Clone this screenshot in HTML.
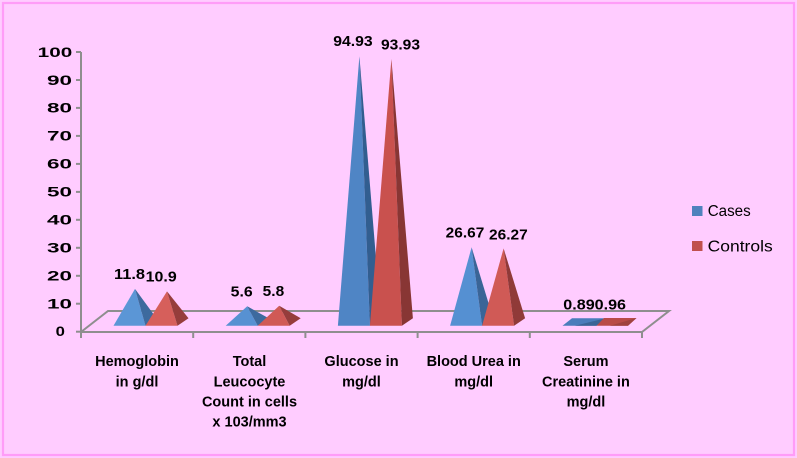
<!DOCTYPE html>
<html><head><meta charset="utf-8"><style>
html,body{margin:0;padding:0;background:#FFCCFF;}
svg{display:block;}
text{font-family:"Liberation Sans",Arial,sans-serif;fill:#000;}
.b{font-weight:bold;}
</style></head><body>
<svg width="797" height="458" viewBox="0 0 797 458" xmlns="http://www.w3.org/2000/svg">
<rect x="0" y="0" width="797" height="458" fill="#FFCCFF"/>
<rect x="3" y="3" width="791" height="452" fill="#FFCCFF" stroke="#FF9CF8" stroke-width="2.2"/>

<!-- floor -->
<g stroke="#8E8E8E" stroke-width="2" fill="none">
<polyline points="81,332 108,311 669,311 642,332"/>
<line x1="81" y1="332" x2="642" y2="332"/>
<line x1="81" y1="52" x2="81" y2="333"/>
<line x1="81" y1="332" x2="81" y2="338"/>
<line x1="193.2" y1="332" x2="193.2" y2="338"/>
<line x1="305.4" y1="332" x2="305.4" y2="338"/>
<line x1="417.6" y1="332" x2="417.6" y2="338"/>
<line x1="529.8" y1="332" x2="529.8" y2="338"/>
<line x1="642" y1="332" x2="642" y2="338"/>
<line x1="76" y1="331.7" x2="81" y2="331.7"/>
<line x1="76" y1="303.7" x2="81" y2="303.7"/>
<line x1="76" y1="275.8" x2="81" y2="275.8"/>
<line x1="76" y1="247.8" x2="81" y2="247.8"/>
<line x1="76" y1="219.8" x2="81" y2="219.8"/>
<line x1="76" y1="191.9" x2="81" y2="191.9"/>
<line x1="76" y1="163.9" x2="81" y2="163.9"/>
<line x1="76" y1="135.9" x2="81" y2="135.9"/>
<line x1="76" y1="107.9" x2="81" y2="107.9"/>
<line x1="76" y1="80" x2="81" y2="80"/>
<line x1="76" y1="52" x2="81" y2="52"/>
</g>

<!-- y labels -->
<g class="b" font-size="13.5">
<text x="55.7" y="336" textLength="9.3" lengthAdjust="spacingAndGlyphs">0</text>
<text x="47" y="308.5" textLength="25" lengthAdjust="spacingAndGlyphs">10</text>
<text x="47" y="280.6" textLength="25" lengthAdjust="spacingAndGlyphs">20</text>
<text x="47" y="252.6" textLength="25" lengthAdjust="spacingAndGlyphs">30</text>
<text x="47" y="224.6" textLength="25" lengthAdjust="spacingAndGlyphs">40</text>
<text x="47" y="196.7" textLength="25" lengthAdjust="spacingAndGlyphs">50</text>
<text x="47" y="168.7" textLength="25" lengthAdjust="spacingAndGlyphs">60</text>
<text x="47" y="140.7" textLength="25" lengthAdjust="spacingAndGlyphs">70</text>
<text x="47" y="112.7" textLength="25" lengthAdjust="spacingAndGlyphs">80</text>
<text x="47" y="84.8" textLength="25" lengthAdjust="spacingAndGlyphs">90</text>
<text x="37.7" y="57" textLength="34.6" lengthAdjust="spacingAndGlyphs">100</text>
</g>

<!-- pyramids -->
<polygon points="113.5,325.7 145.5,325.7 135,288.9" fill="#5B96D6"/>
<polygon points="145.5,325.7 156.5,318.2 135,288.9" fill="#3D6A9E"/>
<polygon points="145.5,325.7 177.5,325.7 167,291.4" fill="#D65F5B"/>
<polygon points="177.5,325.7 188.5,318.2 167,291.4" fill="#963D3B"/>
<polygon points="225.7,325.7 257.7,325.7 247.2,306.3" fill="#5791D2"/>
<polygon points="257.7,325.7 268.7,318.2 247.2,306.3" fill="#3D6A9E"/>
<polygon points="257.7,325.7 289.7,325.7 279.2,305.7" fill="#D05A56"/>
<polygon points="289.7,325.7 300.7,318.2 279.2,305.7" fill="#963D3B"/>
<polygon points="337.9,325.7 369.9,325.7 359.4,56.2" fill="#4F85C5"/>
<polygon points="369.9,325.7 380.9,318.2 359.4,56.2" fill="#325E90"/>
<polygon points="369.9,325.7 401.9,325.7 391.4,59" fill="#C9514E"/>
<polygon points="401.9,325.7 412.9,318.2 391.4,59" fill="#883634"/>
<polygon points="450.1,325.7 482.1,325.7 471.6,247.3" fill="#5590D2"/>
<polygon points="482.1,325.7 493.1,318.2 471.6,247.3" fill="#3A6597"/>
<polygon points="482.1,325.7 514.1,325.7 503.6,248.4" fill="#D05A56"/>
<polygon points="514.1,325.7 525.1,318.2 503.6,248.4" fill="#903A38"/>
<polygon points="562.5,325.7 596.5,325.7 605.5,318.3 572,318.3" fill="#4A7DBB"/>
<polygon points="575,325.7 596.5,325.7 605.5,318.3" fill="#3A6597"/>
<polygon points="596.5,325.7 628,325.7 636.5,318 604,318" fill="#B94B48"/>
<polygon points="610,325.7 628,325.7 636.5,318" fill="#A04240"/>

<!-- data labels -->
<g class="b" font-size="15">
<text x="114" y="279" textLength="31" lengthAdjust="spacingAndGlyphs">11.8</text>
<text x="145.7" y="281.7" textLength="31" lengthAdjust="spacingAndGlyphs">10.9</text>
<text x="230.7" y="296.7" textLength="22" lengthAdjust="spacingAndGlyphs">5.6</text>
<text x="262.7" y="296.2" textLength="21.5" lengthAdjust="spacingAndGlyphs">5.8</text>
<text x="333.3" y="46" textLength="39.4" lengthAdjust="spacingAndGlyphs">94.93</text>
<text x="381" y="49.3" textLength="39" lengthAdjust="spacingAndGlyphs">93.93</text>
<text x="445.7" y="237.4" textLength="38.6" lengthAdjust="spacingAndGlyphs">26.67</text>
<text x="489" y="239.3" textLength="38.7" lengthAdjust="spacingAndGlyphs">26.27</text>
<text x="563.3" y="309.3" textLength="62.7" lengthAdjust="spacingAndGlyphs">0.890.96</text>
</g>

<!-- category labels -->
<g class="b" font-size="14.5" text-anchor="middle">
<text x="137" y="366">Hemoglobin</text>
<text x="137" y="386.5">in g/dl</text>
<text x="249.5" y="366">Total</text>
<text x="249.5" y="386.5">Leucocyte</text>
<text x="249.5" y="406.5">Count in cells</text>
<text x="249.5" y="426.5">x 103/mm3</text>
<text x="361.5" y="366">Glucose in</text>
<text x="361.5" y="386.5">mg/dl</text>
<text x="473.7" y="366">Blood Urea in</text>
<text x="473.7" y="386.5">mg/dl</text>
<text x="585.9" y="366">Serum</text>
<text x="585.9" y="386.5">Creatinine in</text>
<text x="585.9" y="406.5">mg/dl</text>
</g>

<!-- legend -->
<rect x="692" y="206" width="10.5" height="10" fill="#4F81BD"/>
<rect x="692" y="241" width="10.5" height="10" fill="#C0504D"/>
<text x="707.7" y="216" font-size="15.5" textLength="43" lengthAdjust="spacingAndGlyphs">Cases</text>
<text x="707.7" y="251.5" font-size="15.5" textLength="65" lengthAdjust="spacingAndGlyphs">Controls</text>
</svg>
</body></html>
